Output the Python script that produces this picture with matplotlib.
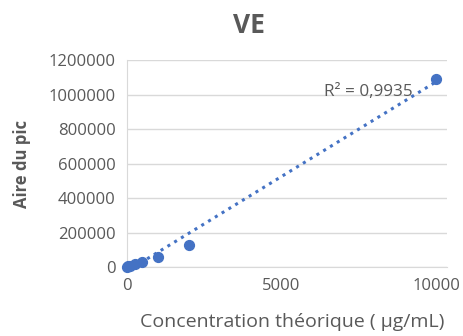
import numpy as np
import matplotlib.pyplot as plt
from matplotlib.ticker import FuncFormatter

plt.rcParams['font.family'] = ['Open Sans', 'DejaVu Sans']

# concentrations (µg/mL) and peak areas
concentration = [10, 50, 100, 250, 500, 1000, 2000, 10000]
aire = [1000, 4000, 8000, 18000, 30000, 58000, 127000, 1090000]
r2_label = "R² = 0,9935"

grey = "#595959"
blue = "#4472C4"

fig = plt.figure(figsize=(4.63, 3.36), dpi=100)
ax = fig.add_axes([0.274, 0.205, 0.691, 0.616])

ax.scatter(concentration, aire, s=50, color=blue, zorder=3, clip_on=False)

# linear trend line
slope, intercept = np.polyfit(concentration, aire, 1)
xs = np.array([0, 10000])
ax.plot(xs, slope * xs + intercept, linestyle=(0, (1, 1.6)), color=blue, linewidth=2.2, zorder=2)

ax.set_xlim(0, 10350)
ax.set_ylim(0, 1200000)
ax.set_xticks([0, 5000, 10000])
ax.set_yticks(np.arange(0, 1200001, 200000))
ax.yaxis.set_major_formatter(FuncFormatter(lambda v, p: f"{int(v)}"))
ax.tick_params(length=0, labelsize=12, colors=grey, pad=8)

ax.grid(axis='y', color='#d9d9d9', linewidth=1)
ax.set_axisbelow(True)
for side in ['top', 'right']:
    ax.spines[side].set_visible(False)
for side in ['left', 'bottom']:
    ax.spines[side].set_color('#d9d9d9')

fig.text(0.538, 0.925, "VE", fontsize=19, fontweight='bold', color=grey, ha='center', va='center')
fig.text(0.047, 0.513, "Aire du pic", fontsize=12, fontweight='bold', color=grey,
         rotation=90, ha='center', va='center')
fig.text(0.632, 0.042, "Concentration théorique ( µg/mL)", fontsize=14, color=grey,
         ha='center', va='center')
ax.text(6380, 990000, r2_label, fontsize=12.3, color=grey)

fig.savefig("out.png", dpi=100)
